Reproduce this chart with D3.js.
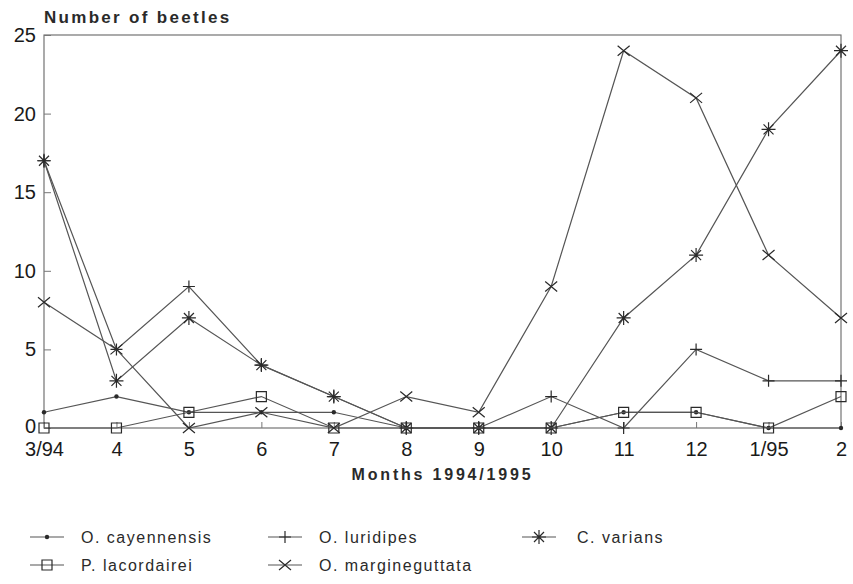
<!DOCTYPE html>
<html>
<head>
<meta charset="utf-8">
<script src="https://cdn.jsdelivr.net/npm/d3@7"></script>
<style>
  body { margin: 0; background: #fff; }
  svg { font-family: "Liberation Sans", Arial, sans-serif; }
  .tick text { fill: #1a1a1a; }
</style>
</head>
<body>
<svg width="853" height="584"></svg>
<script>
(function(d3) {
  "use strict";

  // months on the x axis
  const months = ["3/94", "4", "5", "6", "7", "8", "9", "10", "11", "12", "1/95", "2"];
  const yTicks = [0, 5, 10, 15, 20, 25];

  // beetle counts per species
  const cayennensis = [1, 2, 1, 1, 1, 0, 0, 0, 1, 1, 0, 0];
  const luridipes = [17, 5, 9, 4, 2, 0, 0, 2, 0, 5, 3, 3];
  const varians = [17, 3, 7, 4, 2, 0, 0, 0, 7, 11, 19, 24];
  const lacordairei = [0, 0, 1, 2, 0, 0, 0, 0, 1, 1, 0, 2];
  const margineguttata = [8, 5, 0, 1, 0, 2, 1, 9, 24, 21, 11, 7];

  const names = ["O. cayennensis", "O. luridipes", "C. varians", "P. lacordairei", "O. margineguttata"];
  const symbols = ["dot", "plus", "star", "square", "cross"];

  const series = [cayennensis, luridipes, varians, lacordairei, margineguttata]
    .map((values, i) => ({ name: names[i], symbol: symbols[i], values }));

  const svg = d3.select("svg");
  const margin = { top: 35, right: 12, bottom: 156, left: 44 };
  const width = +svg.attr("width");
  const height = +svg.attr("height");
  const innerWidth = width - margin.left - margin.right;
  const innerHeight = height - margin.top - margin.bottom;

  const ink = "#2a2a2a";
  const lineColor = "#555";

  const xScale = d3.scalePoint().domain(months).range([0, innerWidth]);
  const yScale = d3.scaleLinear().domain([0, 25]).range([innerHeight, 0]);

  const g = svg.append("g")
    .attr("transform", `translate(${margin.left},${margin.top})`);

  // frame
  g.append("rect")
    .attr("width", innerWidth)
    .attr("height", innerHeight)
    .attr("fill", "none")
    .attr("stroke", "#666")
    .attr("stroke-width", 1.1);

  const xAxis = d3.axisBottom(xScale).tickSize(-6).tickPadding(18);
  const xAxisG = g.append("g")
    .attr("transform", `translate(0,${innerHeight})`)
    .call(xAxis);
  xAxisG.select(".domain").remove();
  xAxisG.selectAll(".tick line").attr("stroke", "#777");
  xAxisG.selectAll(".tick text")
    .attr("font-size", 20)
    .attr("dy", "0.5em");

  const yAxis = d3.axisLeft(yScale).tickValues(yTicks).tickSize(-7).tickPadding(9);
  const yAxisG = g.append("g").call(yAxis);
  yAxisG.select(".domain").remove();
  yAxisG.selectAll(".tick line").attr("stroke", "#777");
  yAxisG.selectAll(".tick text")
    .attr("font-size", 20)
    .attr("x", -8);
  // the zero label sits a little higher so it clears "3/94"
  yAxisG.selectAll(".tick text").filter(d => d === 0).attr("dy", "0.2em");

  // titles
  svg.append("text")
    .attr("x", 44)
    .attr("y", 23)
    .attr("font-size", 17)
    .attr("font-weight", "bold")
    .attr("letter-spacing", 2.3)
    .attr("fill", ink)
    .text("Number of beetles");

  g.append("text")
    .attr("x", innerWidth / 2)
    .attr("y", innerHeight + 52)
    .attr("text-anchor", "middle")
    .attr("font-size", 16)
    .attr("font-weight", "bold")
    .attr("letter-spacing", 2.8)
    .attr("fill", ink)
    .text("Months 1994/1995");

  const markerPath = {
    plus: "M-6,0H6M0,-6V6",
    cross: "M-6,-5L6,5M-6,5L6,-5",
    star: "M-7,0H7M0,-7V7M-5,-5L5,5M-5,5L5,-5",
    square: "M-5,-5H5V5H-5Z"
  };

  const drawMarker = (sel, symbol) => {
    if (symbol === "dot") {
      sel.append("circle").attr("r", 2.2).attr("fill", ink);
    } else {
      sel.append("path")
        .attr("d", markerPath[symbol])
        .attr("fill", "none")
        .attr("stroke", ink)
        .attr("stroke-width", 1.2);
    }
  };

  const line = d3.line()
    .x((d, i) => xScale(months[i]))
    .y(d => yScale(d));

  const seriesG = g.selectAll(".series")
    .data(series)
    .enter()
    .append("g")
    .attr("class", "series");

  seriesG.append("path")
    .attr("d", d => line(d.values))
    .attr("fill", "none")
    .attr("stroke", lineColor)
    .attr("stroke-width", 1.2);

  seriesG.each(function(s) {
    d3.select(this).selectAll(".mark")
      .data(s.values)
      .enter()
      .append("g")
      .attr("class", "mark")
      .attr("transform", (d, i) => `translate(${xScale(months[i])},${yScale(d)})`)
      .each(function() { drawMarker(d3.select(this), s.symbol); });
  });

  // legend
  const legendX = [30, 268, 522];
  const legendY = [537, 565];
  const legend = svg.append("g");
  series.forEach((s, i) => {
    const lg = legend.append("g")
      .attr("transform", `translate(${legendX[i % 3]},${legendY[Math.floor(i / 3)]})`);
    lg.append("line")
      .attr("x1", 0).attr("x2", 34)
      .attr("stroke", lineColor)
      .attr("stroke-width", 1.2);
    lg.append("g")
      .attr("transform", "translate(17,0)")
      .each(function() { drawMarker(d3.select(this), s.symbol); });
    lg.append("text")
      .attr("x", i % 3 === 2 ? 55 : 51)
      .attr("dy", "0.35em")
      .attr("font-size", 16)
      .attr("letter-spacing", 1.5)
      .attr("fill", ink)
      .text(s.name);
  });
})(d3);
</script>
</body>
</html>
